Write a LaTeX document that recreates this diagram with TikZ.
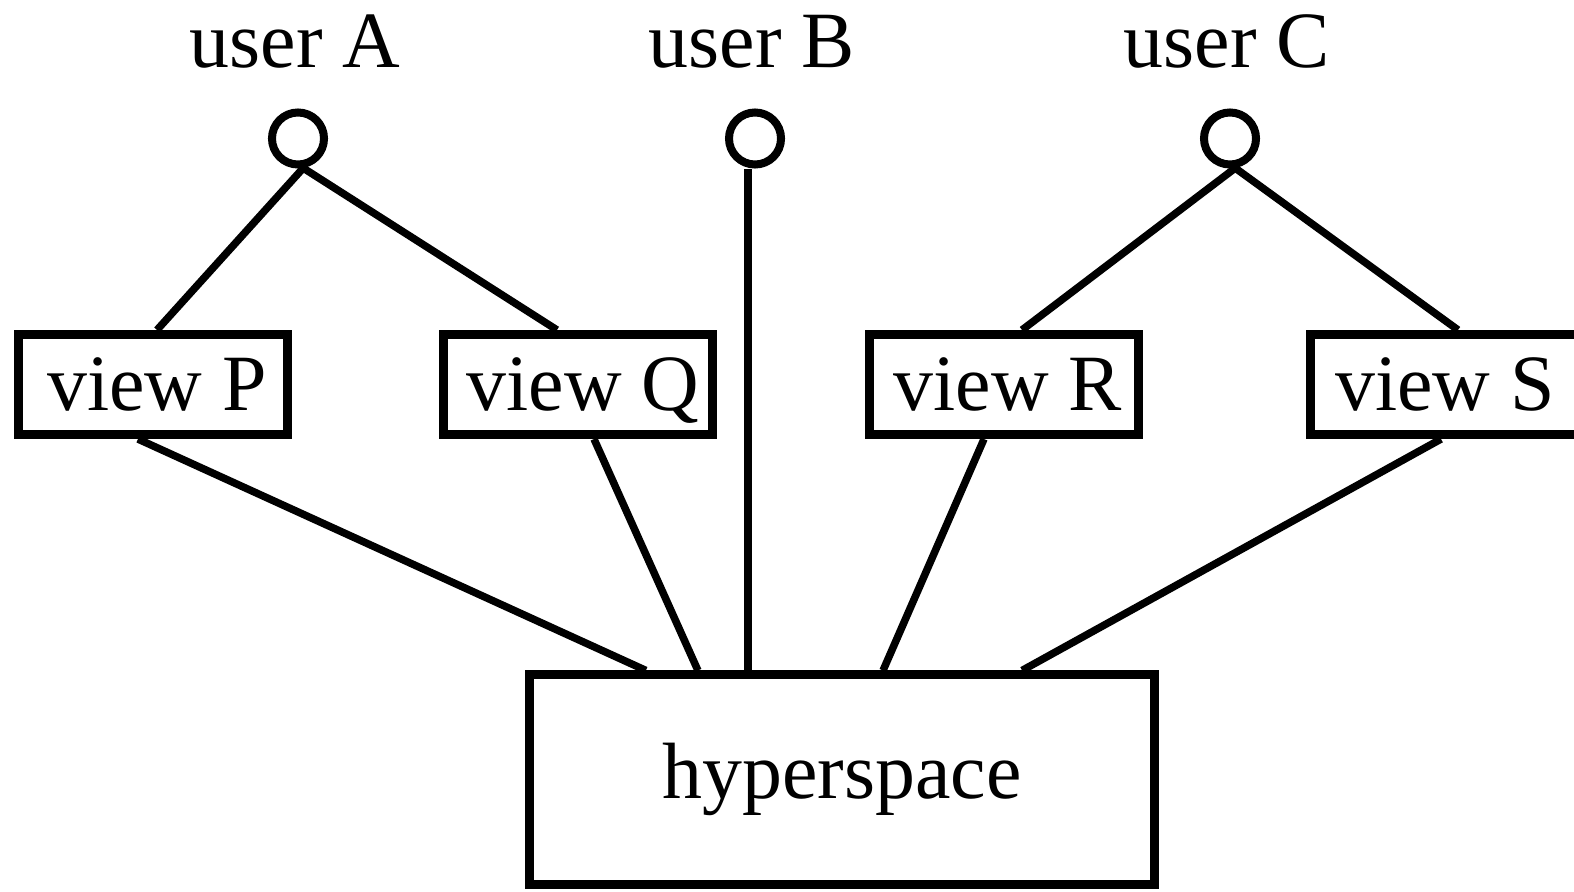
\documentclass[tikz,border=0pt]{standalone}
\usepackage{fontspec}
\setmainfont{Liberation Serif}
\usepackage{tikz}

\begin{document}
\begin{tikzpicture}[x=0.01cm, y=-0.01cm,
	every node/.style={font=\fontsize{22.7}{27}\selectfont},
	user/.style={circle,draw,line width=0.08cm,inner sep=0pt,minimum size=0.52cm,name=#1},
	view/.style={draw,line width=0.09cm,minimum width=2.69cm,minimum height=1cm,text depth=0pt,name=#1},
	link/.style={line width=0.075cm}]
				\useasboundingbox (0,0) rectangle (1574,891);
				\node [anchor=base] (lA) at (295, 68) {user A};
				\node [anchor=base] (lB) at (752, 68) {user B};
				\node [anchor=base] (lC) at (1227, 68) {user C};
				\node [user=uA] at (298, 138.5) {};
				\node [user=uB] at (755, 138.5) {};
				\node [user=uC] at (1230, 138.5) {};
				\node [view=vP] at (153, 384.5) {\hspace{0.08cm}view P};
				\node [view=vQ] at (578, 384.5) {\hspace{0.1cm}view Q};
				\node [view=vR] at (1004, 384.5) {\hspace{0.08cm}view R};
				\node [view=vS] at (1445, 384.5) {view S\hspace{0.1cm}};
				\node [draw, line width=0.09cm, minimum width=6.24cm, minimum height=2.09cm] (hs) at (842, 779.5) {hyperspace};
				\draw [link] (uA.-80) -- ([xshift=0.04cm]vP.north);
				\draw [link] (uA.-80) -- ([xshift=-0.21cm]vQ.north);
				\draw [link] (uC.-80) -- ([xshift=0.18cm]vR.north);
				\draw [link] (uC.-80) -- ([xshift=0.13cm]vS.north);
				\draw [link] ([xshift=-0.15cm]vP.south) -- ([xshift=-1.96cm]hs.north);
				\draw [link] ([xshift=0.16cm]vQ.south) -- ([xshift=-1.44cm]hs.north);
				\draw [link] ([xshift=-0.07cm]uB.south) -- ([xshift=-0.07cm]uB.south |- hs.north);
				\draw [link] ([xshift=-0.2cm]vR.south) -- ([xshift=0.41cm]hs.north);
				\draw [link] ([xshift=-0.04cm]vS.south) -- ([xshift=1.8cm]hs.north);
			\end{tikzpicture}
\end{document}
